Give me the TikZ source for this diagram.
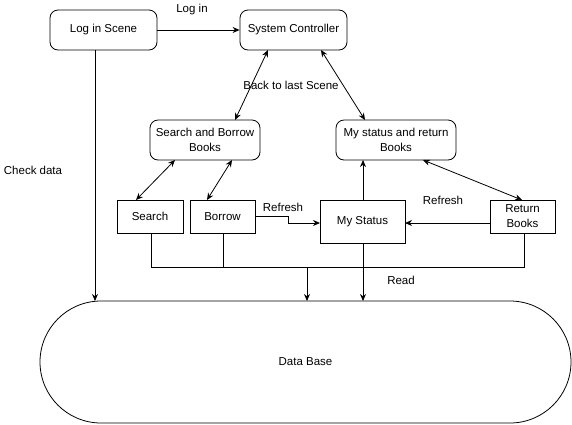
\documentclass[tikz,border=0pt]{standalone}
\usepackage{fontspec}
\setmainfont{Liberation Sans}
\usetikzlibrary{arrows.meta}
\begin{document}
\begin{tikzpicture}[x=1pt,y=-1pt,
  every node/.style={font=\fontsize{11.5}{15}\selectfont},
  box/.style={draw,line width=0.8pt,inner sep=0pt,align=center},
  rbox/.style={box,rounded corners=8pt},
  lbl/.style={inner sep=0pt},
  conn/.style={line width=0.8pt,-{Stealth[length=7pt,width=6pt]}},
  bconn/.style={line width=0.8pt,{Stealth[length=7pt,width=6pt]}-{Stealth[length=7pt,width=6pt]}},
  plain/.style={line width=0.8pt}]
\useasboundingbox (0,0) rectangle (572,424);
% boxes
\node[rbox,minimum width=107pt,minimum height=40pt] (login) at (103.5,30) {Log in Scene};
\node[rbox,minimum width=107pt,minimum height=40pt] (sc) at (293.5,30) {System Controller};
\node[rbox,minimum width=110pt,minimum height=40pt] (sbb) at (205,140) {Search and Borrow\\Books};
\node[rbox,minimum width=120pt,minimum height=40pt] (msrb) at (396,140) {My status and return\\Books};
\node[box,minimum width=66pt,minimum height=33pt] (search) at (150,216.5) {Search};
\node[box,minimum width=65pt,minimum height=33pt] (borrow) at (222.5,216.5) {Borrow};
\node[box,minimum width=85pt,minimum height=43pt] (mystatus) at (362.5,221.5) {My Status};
\node[box,minimum width=65pt,minimum height=33pt] (ret) at (522.5,216.5) {Return\\Books};
\node[box,rounded corners=61pt,minimum width=531pt,minimum height=122pt] (db) at (305.5,362) {Data Base};
% labels
\node[lbl] (l1) at (192,10) {Log in};
\node[lbl] (l2) at (291,85) {Back to last Scene};
\node[lbl] (l3) at (33,170) {Check data};
\node[lbl] (l4) at (283,207) {Refresh};
\node[lbl] (l5) at (443,200) {Refresh};
\node[lbl] (l6) at (401,280) {Read};
% connector end points on the boxes
\coordinate (a1) at (268,50); \coordinate (a2) at (235,120);
\coordinate (b1) at (321,50); \coordinate (b2) at (365,120);
\coordinate (c1) at (175,160); \coordinate (c2) at (136,200);
\coordinate (d1) at (232,160); \coordinate (d2) at (207,200);
\coordinate (e1) at (423,160); \coordinate (e2) at (522,200);
\coordinate (msT) at (363,200); \coordinate (msrbB) at (363,160);
\coordinate (msL) at (320,223); \coordinate (msR) at (405,223);
\coordinate (retL) at (490,223);
\coordinate (loginB) at (95,50); \coordinate (dbT1) at (95,301);
\coordinate (srB) at (151,233); \coordinate (boB) at (223,233); \coordinate (reB) at (524,233);
\coordinate (bus) at (307,267); \coordinate (dbT2) at (307,301);
\coordinate (msB) at (363,243); \coordinate (dbT3) at (363,301);
% connectors
\draw[conn] (login.east) -- (sc.west);
\draw[bconn] (a1) -- (a2);
\draw[bconn] (b1) -- (b2);
\draw[bconn] (c1) -- (c2);
\draw[bconn] (d1) -- (d2);
\draw[bconn] (e1) -- (e2);
\draw[conn] (msT) -- (msrbB);
\draw[conn] (borrow.east) -- (288,216.5) -- (288,223) -- (msL);
\draw[conn] (retL) -- (msR);
\draw[conn] (loginB) -- (dbT1);
\draw[plain] (srB) -- (151,267) -- (524,267) -- (reB);
\draw[plain] (boB) -- (223,267);
\draw[conn] (bus) -- (dbT2);
\draw[conn] (msB) -- (dbT3);
\end{tikzpicture}
\end{document}
